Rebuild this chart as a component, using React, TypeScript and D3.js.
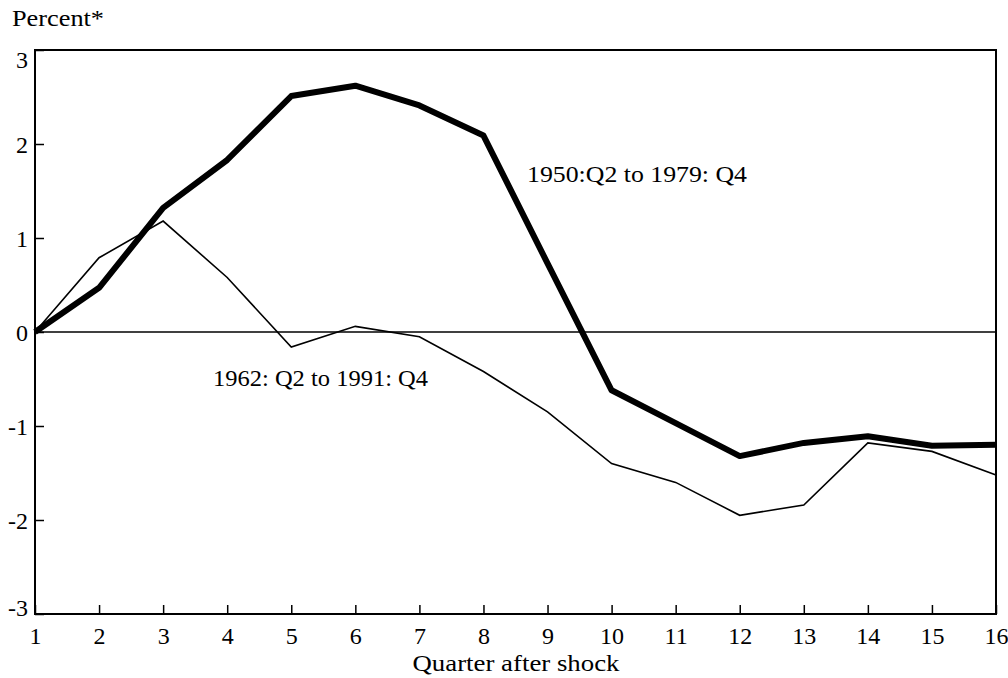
import { useEffect, useRef } from "react";
import * as d3 from "d3";

// quarters after the shock
const quarters = [1, 2, 3, 4, 5, 6, 7, 8, 9, 10, 11, 12, 13, 14, 15, 16];

// 1950:Q2 to 1979:Q4 response (thick line)
const earlySample = [
    0, 0.47, 1.32, 1.83, 2.51, 2.62, 2.41, 2.09, 0.73, -0.62, -0.97, -1.32, -1.18, -1.11,
    -1.21, -1.2,
];

// 1962:Q2 to 1991:Q4 response (thin line)
const lateSample = [
    0, 0.79, 1.18, 0.58, -0.16, 0.06, -0.05, -0.42, -0.85, -1.4, -1.6, -1.95, -1.84, -1.18,
    -1.27, -1.52,
];

const yTicks = [-3, -2, -1, 0, 1, 2, 3];

const font = "Liberation Serif, Times New Roman, serif";
const fontSize = 24;

const App = () => {
    const ref = useRef<HTMLDivElement>(null);

    useEffect(() => {
        const width = 1008;
        const height = 678;
        const marginLeft = 35;
        const marginRight = 12;
        const marginTop = 50;
        const marginBottom = 64;

        const x = d3.scaleLinear([1, 16], [marginLeft, width - marginRight]);
        const y = d3.scaleLinear([-3, 3], [height - marginBottom, marginTop]);

        const svg = d3
            .create("svg")
            .attr("width", width)
            .attr("height", height)
            .attr("viewBox", [0, 0, width, height])
            .attr("font-family", font)
            .style("position", "absolute")
            .style("left", 0)
            .style("top", 0)
            .style("background", "#fff");

        // x-axis: inner ticks, labels below
        svg.append("g")
            .attr("transform", `translate(0,${height - marginBottom})`)
            .call(
                d3
                    .axisBottom(x)
                    .tickValues(quarters)
                    .tickSizeInner(-9)
                    .tickSizeOuter(0)
                    .tickPadding(0)
                    .tickFormat(d3.format("d"))
            )
            .attr("font-family", font)
            .attr("font-size", fontSize)
            .call((g) => g.select(".domain").remove())
            .call((g) =>
                g.selectAll(".tick line").attr("stroke", "#000").attr("stroke-width", 1.5)
            )
            .call((g) =>
                g.selectAll(".tick text").attr("fill", "#000").attr("y", 30).attr("dy", 0)
            );

        // y-axis: inner ticks, labels to the left
        svg.append("g")
            .attr("transform", `translate(${marginLeft},0)`)
            .call(
                d3
                    .axisLeft(y)
                    .tickValues(yTicks)
                    .tickSizeInner(-9)
                    .tickSizeOuter(0)
                    .tickPadding(0)
                    .tickFormat(d3.format("d"))
            )
            .attr("font-family", font)
            .attr("font-size", fontSize)
            .call((g) => g.select(".domain").remove())
            .call((g) =>
                g.selectAll(".tick line").attr("stroke", "#000").attr("stroke-width", 1.5)
            )
            .call((g) =>
                g
                    .selectAll<SVGTextElement, number>(".tick text")
                    .attr("fill", "#000")
                    .attr("x", -7)
                    .attr("dy", (d) => (d === 3 ? "0.72em" : d === -3 ? "0.05em" : "0.35em"))
                    .text((d) => (d < 0 ? `-${Math.abs(d)}` : `${d}`))
            );

        // frame
        svg.append("rect")
            .attr("x", marginLeft)
            .attr("y", marginTop)
            .attr("width", width - marginLeft - marginRight)
            .attr("height", height - marginTop - marginBottom)
            .attr("fill", "none")
            .attr("stroke", "#000")
            .attr("stroke-width", 2);

        // zero line
        svg.append("line")
            .attr("x1", marginLeft)
            .attr("x2", width - marginRight)
            .attr("y1", y(0))
            .attr("y2", y(0))
            .attr("stroke", "#000")
            .attr("stroke-width", 1.5);

        const line = d3
            .line<number>()
            .x((d, i) => x(quarters[i]))
            .y((d) => y(d));

        svg.append("path")
            .attr("fill", "none")
            .attr("stroke", "#000")
            .attr("stroke-width", 1.6)
            .attr("stroke-linejoin", "miter")
            .attr("d", line(lateSample));

        svg.append("path")
            .attr("fill", "none")
            .attr("stroke", "#000")
            .attr("stroke-width", 6)
            .attr("stroke-linejoin", "round")
            .attr("d", line(earlySample));

        // annotations and titles (scan is a bit wider than the font, so stretch to fit)
        const label = (tx: number, ty: number, s: string, len: number, anchor = "start") =>
            svg
                .append("text")
                .attr("x", tx)
                .attr("y", ty)
                .attr("font-family", font)
                .attr("font-size", fontSize)
                .attr("text-anchor", anchor)
                .attr("textLength", len)
                .attr("lengthAdjust", "spacingAndGlyphs")
                .attr("fill", "#000")
                .text(s);

        label(527, 182, "1950:Q2 to 1979: Q4", 220);
        label(213, 386, "1962: Q2 to 1991: Q4", 215);
        label(12, 26, "Percent*", 92);
        label(516, 671, "Quarter after shock", 207, "middle");

        if (ref.current) {
            ref.current.innerHTML = "";
            ref.current.appendChild(svg.node()!);
        }
    }, []);

    return <div ref={ref}></div>;
};

export default App;
